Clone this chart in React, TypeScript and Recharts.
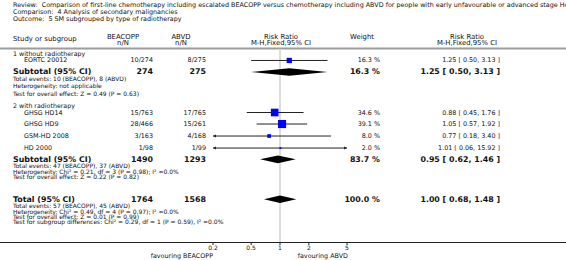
import React from "react";
import { ComposedChart, Scatter, XAxis, YAxis, ReferenceLine, Customized } from "recharts";

const FONT = "'DejaVu Sans', Verdana, sans-serif";

const titleLines = [
  "Review:  Comparison of first-line chemotherapy including escalated BEACOPP versus chemotherapy including ABVD for people with early unfavourable or advanced stage Hodgkin lymphoma",
  "Comparison:  4 Analysis of secondary malignancies",
  "Outcome:  5 SM subgrouped by type of radiotherapy",
];

// studies
const studies = ["EORTC 20012", "GHSG HD14", "GHSG HD9", "GSM-HD 2008", "HD 2000"];
const beacoppEvents = ["10/274", "15/763", "28/466", "3/163", "1/98"];
const abvdEvents = ["8/275", "17/765", "15/261", "4/168", "1/99"];
const studyRR = [1.25, 0.88, 1.05, 0.77, 1.01];
const studyLo = [0.5, 0.45, 0.57, 0.18, 0.06];
const studyHi = [3.13, 1.76, 1.92, 3.4, 15.92];
const studyWeight = [16.3, 34.6, 39.1, 8.0, 2.0];
const studyRows = [1.9, 10.53, 12.44, 14.43, 16.42];

// subgroup headings
const groupLabels = ["1 without radiotherapy", "2 with radiotherapy"];
const groupRows = [0.8, 9.45];

// subtotals + total
const summaryLabels = ["Subtotal (95% CI)", "Subtotal (95% CI)", "Total (95% CI)"];
const summaryBeacopp = [274, 1490, 1764];
const summaryAbvd = [275, 1293, 1568];
const summaryRR = [1.25, 0.95, 1.0];
const summaryLo = [0.5, 0.62, 0.68];
const summaryHi = [3.13, 1.46, 1.48];
const summaryWeight = [16.3, 83.7, 100.0];
const summaryRows = [3.81, 18.3, 24.9];

const footnotes = [
  ["Total events: 10 (BEACOPP), 8 (ABVD)", "Heterogeneity: not applicable", "Test for overall effect: Z = 0.49 (P = 0.63)"],
  ["Total events: 47 (BEACOPP), 37 (ABVD)", "Heterogeneity: Chi² = 0.21, df = 3 (P = 0.98); I² =0.0%", "Test for overall effect: Z = 0.22 (P = 0.82)"],
  [
    "Total events: 57 (BEACOPP), 45 (ABVD)",
    "Heterogeneity: Chi² = 0.49, df = 4 (P = 0.97); I² =0.0%",
    "Test for overall effect: Z = 0.01 (P = 0.99)",
    "Test for subgroup differences: Chi² = 0.29, df = 1 (P = 0.59), I² =0.0%",
  ],
];
const footnoteRows = [
  [4.97, 6.13, 7.3],
  [19.35, 20.27, 21.19],
  [25.95, 26.87, 27.75, 28.63],
];

const xTicks = [0.2, 0.5, 1, 2, 5];
const X_MIN = 0.2;
const X_MAX = 5;

const fmtCI = (r: number, l: number, h: number) => `${r.toFixed(2)} [ ${l.toFixed(2)}, ${h.toFixed(2)} ]`;

const textRows: any[] = [];
groupLabels.forEach((label, i) => textRows.push({ x: 1, row: groupRows[i], kind: "group", label }));
studies.forEach((label, i) =>
  textRows.push({
    x: 1,
    row: studyRows[i],
    kind: "study",
    label,
    a: beacoppEvents[i],
    b: abvdEvents[i],
    w: `${studyWeight[i].toFixed(1)} %`,
    ci: fmtCI(studyRR[i], studyLo[i], studyHi[i]),
  })
);
summaryLabels.forEach((label, i) =>
  textRows.push({
    x: 1,
    row: summaryRows[i],
    kind: "summary",
    label,
    a: String(summaryBeacopp[i]),
    b: String(summaryAbvd[i]),
    w: `${summaryWeight[i].toFixed(1)} %`,
    ci: fmtCI(summaryRR[i], summaryLo[i], summaryHi[i]),
  })
);
footnotes.forEach((lines, g) =>
  lines.forEach((label, j) => textRows.push({ x: 1, row: footnoteRows[g][j], kind: "note", label }))
);

function TextRow(props: any) {
  const { cy, payload: p } = props;
  if (p.kind === "group" || p.kind === "note") {
    return (
      <text x={13} y={cy} fontSize={p.kind === "note" ? 6 : 6.3} fontFamily={FONT} fill="#111" dominantBaseline="central">
        {p.label}
      </text>
    );
  }
  const bold = p.kind === "summary";
  const fs = bold ? 7.9 : 6.4;
  const fw = bold ? "bold" : "normal";
  return (
    <g fontFamily={FONT} fill="#111" fontSize={fs} fontWeight={fw}>
      <text x={bold ? 13 : 24} y={cy} dominantBaseline="central">{p.label}</text>
      <text x={153} y={cy} textAnchor="end" dominantBaseline="central">{p.a}</text>
      <text x={206} y={cy} textAnchor="end" dominantBaseline="central">{p.b}</text>
      <text x={380} y={cy} textAnchor="end" dominantBaseline="central">{p.w}</text>
      <text x={500} y={cy} textAnchor="end" dominantBaseline="central">{p.ci}</text>
    </g>
  );
}

function CiLine(props: any) {
  const pts = props.points || [];
  if (pts.length < 3) return <g />;
  return <line x1={pts[0].x} y1={pts[0].y} x2={pts[2].x} y2={pts[2].y} stroke="#222" strokeWidth={1} />;
}

function StudyMark(props: any) {
  const { cx, cy, payload } = props;
  if (payload.role === "mid") {
    const s = 1.3 * Math.sqrt(payload.w);
    return <rect x={cx - s / 2} y={cy - s / 2} width={s} height={s} fill="#0000ff" />;
  }
  if (payload.role === "arrowL") {
    return <polygon points={`${cx},${cy} ${cx + 3},${cy - 1.5} ${cx + 3},${cy + 1.5}`} fill="#222" />;
  }
  if (payload.role === "arrowR") {
    return <polygon points={`${cx},${cy} ${cx - 3},${cy - 1.5} ${cx - 3},${cy + 1.5}`} fill="#222" />;
  }
  return <g />;
}

function DiamondLine(props: any) {
  const pts = props.points || [];
  if (pts.length < 3) return <g />;
  const [a, b, c] = pts;
  const h = 3.8;
  return <polygon points={`${a.x},${a.y} ${b.x},${b.y - h} ${c.x},${c.y} ${b.x},${b.y + h}`} fill="#000" />;
}

const Empty = () => <g />;

function Frame() {
  return (
    <g fontFamily={FONT} fill="#111">
      {titleLines.map((t, i) => (
        <text key={i} x={13} y={4.5 + i * 7} fontSize={6.4} dominantBaseline="central" style={{ whiteSpace: "pre" }}>
          {t}
        </text>
      ))}
      <g fontSize={6.9}>
        <text x={13} y={38.5} dominantBaseline="central">Study or subgroup</text>
        <text x={123} y={36.5} textAnchor="middle" dominantBaseline="central">BEACOPP</text>
        <text x={123} y={43} textAnchor="middle" dominantBaseline="central">n/N</text>
        <text x={181} y={36.5} textAnchor="middle" dominantBaseline="central">ABVD</text>
        <text x={181} y={43} textAnchor="middle" dominantBaseline="central">n/N</text>
        <text x={281} y={36.5} textAnchor="middle" dominantBaseline="central">Risk Ratio</text>
        <text x={281} y={43} textAnchor="middle" dominantBaseline="central">M-H,Fixed,95% CI</text>
        <text x={362} y={37} textAnchor="middle" dominantBaseline="central">Weight</text>
        <text x={467} y={36.5} textAnchor="middle" dominantBaseline="central">Risk Ratio</text>
        <text x={467} y={43} textAnchor="middle" dominantBaseline="central">M-H,Fixed,95% CI</text>
      </g>
      <line x1={0} x2={566} y1={48.5} y2={48.5} stroke="#9c9c9c" strokeWidth={2} />
      <line x1={0} x2={566} y1={242.5} y2={242.5} stroke="#222" strokeWidth={1} />
      <g fontSize={6.4}>
        <text x={213} y={256} textAnchor="end" dominantBaseline="central">favouring BEACOPP</text>
        <text x={348} y={256} textAnchor="end" dominantBaseline="central">favouring ABVD</text>
      </g>
    </g>
  );
}

export default function App() {
  return (
    <div style={{ width: 566, height: 260, background: "#fff" }}>
      <style>{"body{margin:0}"}</style>
      <ComposedChart width={566} height={260} margin={{ top: 49, right: 219, bottom: 0, left: 213 }}>
        <XAxis
          dataKey="x"
          type="number"
          scale="log"
          domain={[X_MIN, X_MAX]}
          ticks={xTicks}
          tickFormatter={(v) => String(v)}
          axisLine={false}
          tickLine={{ stroke: "#222" }}
          tickSize={3}
          tickMargin={0.5}
          height={18}
          tick={{ fontSize: 6, fill: "#111", fontFamily: FONT }}
        />
        <YAxis dataKey="row" type="number" domain={[0, 32]} reversed hide width={0} />
        <ReferenceLine x={1} stroke="#dcdcdc" strokeWidth={2} />
        <Customized component={Frame} />
        {studies.map((s, i) => {
          const pts = [
            { x: Math.max(studyLo[i], X_MIN), row: studyRows[i], role: studyLo[i] < X_MIN ? "arrowL" : "end" },
            { x: studyRR[i], row: studyRows[i], role: "mid", w: studyWeight[i] },
            { x: Math.min(studyHi[i], X_MAX), row: studyRows[i], role: studyHi[i] > X_MAX ? "arrowR" : "end" },
          ];
          return <Scatter key={s} data={pts} isAnimationActive={false} line={CiLine} shape={StudyMark} />;
        })}
        {summaryLabels.map((s, i) => {
          const pts = [
            { x: summaryLo[i], row: summaryRows[i] },
            { x: summaryRR[i], row: summaryRows[i] },
            { x: summaryHi[i], row: summaryRows[i] },
          ];
          return <Scatter key={"d" + i} data={pts} isAnimationActive={false} line={DiamondLine} shape={Empty} />;
        })}
        <Scatter data={textRows} isAnimationActive={false} shape={TextRow} />
      </ComposedChart>
    </div>
  );
}
